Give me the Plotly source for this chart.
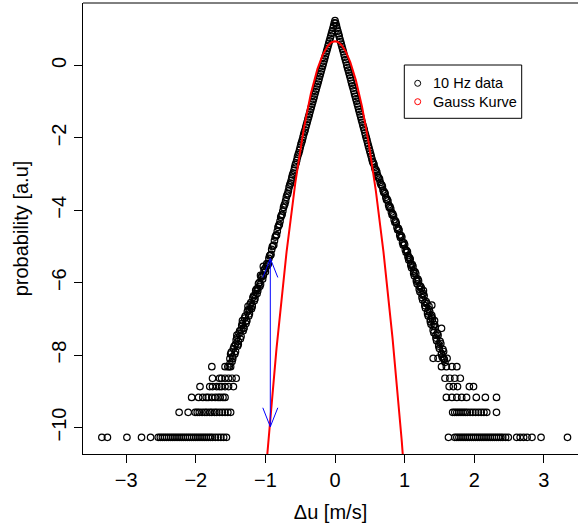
import numpy as np
import plotly.graph_objects as go

# ---------------- data ----------------
# central part of the 10 Hz histogram, left flank
left_x = [0.00, -0.02, -0.04, -0.06, -0.08, -0.10, -0.12, -0.14, -0.16, -0.18,
          -0.20, -0.22, -0.24, -0.26, -0.28, -0.30, -0.32, -0.34, -0.36, -0.38,
          -0.40, -0.42, -0.44, -0.46, -0.48, -0.50, -0.52, -0.54, -0.56, -0.58,
          -0.60, -0.62, -0.64, -0.66, -0.68, -0.70, -0.72, -0.74, -0.76, -0.78,
          -0.80, -0.82, -0.84, -0.86, -0.88, -0.90, -0.92, -0.94, -0.96, -0.98,
          -1.00, -1.02, -1.04, -1.06, -1.08, -1.10, -1.12, -1.14, -1.16, -1.18,
          -1.20, -1.22, -1.24, -1.26, -1.28, -1.30, -1.32, -1.34, -1.36, -1.38,
          -1.40, -1.42, -1.44, -1.46, -1.48, -1.50, -1.52]
left_y = [1.24, 1.10, 0.96, 0.82, 0.68, 0.54, 0.40, 0.26, 0.12, -0.02,
          -0.16, -0.30, -0.44, -0.58, -0.72, -0.86, -1.00, -1.14, -1.28, -1.42,
          -1.56, -1.70, -1.84, -1.98, -2.12, -2.26, -2.41, -2.53, -2.69, -2.81,
          -2.97, -3.09, -3.25, -3.36, -3.54, -3.64, -3.82, -3.92, -4.11, -4.19,
          -4.39, -4.47, -4.68, -4.74, -4.96, -5.00, -5.22, -5.26, -5.48, -5.47,
          -5.70, -5.66, -5.90, -5.85, -6.10, -6.03, -6.30, -6.22, -6.50, -6.41,
          -6.72, -6.60, -6.92, -6.80, -7.13, -6.98, -7.33, -7.18, -7.55, -7.40,
          -7.75, -7.58, -7.97, -7.82, -8.18, -7.97, -8.32]
# bins in between (left flank)
left_mid_x = [-0.01, -0.03, -0.05, -0.07, -0.09, -0.11, -0.13, -0.15, -0.17, -0.19,
              -0.21, -0.23, -0.25, -0.27, -0.29, -0.31, -0.33, -0.35, -0.37, -0.39,
              -0.41, -0.43, -0.45, -0.47, -0.49, -0.51, -0.53, -0.55, -0.57, -0.59,
              -0.61, -0.63, -0.65, -0.67, -0.69, -0.71, -0.73, -0.75, -0.77, -0.79,
              -0.81, -0.83, -0.85, -0.87, -0.89, -0.91, -0.93, -0.95, -0.97, -0.99,
              -1.01, -1.03, -1.05, -1.07, -1.09, -1.11, -1.13, -1.15, -1.17, -1.19,
              -1.21, -1.23, -1.25, -1.27, -1.29, -1.31, -1.33, -1.35, -1.37, -1.39,
              -1.41, -1.43, -1.45, -1.47, -1.49, -1.51]
left_mid_y = [1.18, 1.03, 0.89, 0.75, 0.61, 0.47, 0.33, 0.19, 0.05, -0.09,
              -0.23, -0.37, -0.51, -0.65, -0.79, -0.93, -1.07, -1.21, -1.35, -1.49,
              -1.63, -1.78, -1.90, -2.06, -2.18, -2.34, -2.46, -2.62, -2.74, -2.90,
              -3.02, -3.18, -3.30, -3.46, -3.58, -3.74, -3.86, -4.02, -4.14, -4.30,
              -4.42, -4.58, -4.70, -4.84, -4.98, -5.08, -5.24, -5.33, -5.52, -5.56,
              -5.62, -5.80, -5.82, -6.04, -6.00, -6.22, -6.18, -6.44, -6.36, -6.66,
              -6.55, -6.86, -6.75, -7.06, -6.92, -7.26, -7.12, -7.48, -7.33, -7.70,
              -7.52, -7.90, -7.76, -8.10, -7.92, -8.24]

# central part, right flank
right_x = [0.02, 0.04, 0.06, 0.08, 0.10, 0.12, 0.14, 0.16, 0.18, 0.20,
           0.22, 0.24, 0.26, 0.28, 0.30, 0.32, 0.34, 0.36, 0.38, 0.40,
           0.42, 0.44, 0.46, 0.48, 0.50, 0.52, 0.54, 0.56, 0.58, 0.60,
           0.62, 0.64, 0.66, 0.68, 0.70, 0.72, 0.74, 0.76, 0.78, 0.80,
           0.82, 0.84, 0.86, 0.88, 0.90, 0.92, 0.94, 0.96, 0.98, 1.00,
           1.02, 1.04, 1.06, 1.08, 1.10, 1.12, 1.14, 1.16, 1.18, 1.20,
           1.22, 1.24, 1.26, 1.28, 1.30, 1.32, 1.34, 1.36, 1.38, 1.40,
           1.42, 1.44, 1.46, 1.48, 1.50, 1.52, 1.54, 1.56, 1.58]
right_y = [1.10, 0.95, 0.81, 0.66, 0.52, 0.38, 0.23, 0.09, -0.06, -0.20,
           -0.34, -0.49, -0.63, -0.78, -0.92, -1.06, -1.21, -1.35, -1.50, -1.64,
           -1.78, -1.93, -2.07, -2.22, -2.36, -2.50, -2.65, -2.73, -2.88, -2.94,
           -3.09, -3.14, -3.29, -3.34, -3.50, -3.54, -3.71, -3.74, -3.92, -3.95,
           -4.12, -4.15, -4.33, -4.35, -4.54, -4.55, -4.75, -4.74, -4.96, -4.95,
           -5.16, -5.15, -5.37, -5.35, -5.59, -5.55, -5.81, -5.75, -6.03, -5.95,
           -6.25, -6.15, -6.48, -6.36, -6.70, -6.58, -6.92, -6.80, -7.15, -7.00,
           -7.38, -7.22, -7.60, -7.45, -7.82, -7.68, -8.05, -7.90, -8.20]
# bins in between (right flank)
right_mid_x = [0.01, 0.03, 0.05, 0.07, 0.09, 0.11, 0.13, 0.15, 0.17, 0.19,
               0.21, 0.23, 0.25, 0.27, 0.29, 0.31, 0.33, 0.35, 0.37, 0.39,
               0.41, 0.43, 0.45, 0.47, 0.49, 0.51, 0.53, 0.55, 0.57, 0.59,
               0.61, 0.63, 0.65, 0.67, 0.69, 0.71, 0.73, 0.75, 0.77, 0.79,
               0.81, 0.83, 0.85, 0.87, 0.89, 0.91, 0.93, 0.95, 0.97, 0.99,
               1.01, 1.03, 1.05, 1.07, 1.09, 1.11, 1.13, 1.15, 1.17, 1.19,
               1.21, 1.23, 1.25, 1.27, 1.29, 1.31, 1.33, 1.35, 1.37, 1.39,
               1.41, 1.43, 1.45, 1.47, 1.49, 1.51, 1.53, 1.55, 1.57]
right_mid_y = [1.17, 1.02, 0.88, 0.73, 0.59, 0.45, 0.30, 0.16, 0.01, -0.13,
               -0.27, -0.42, -0.56, -0.70, -0.85, -0.99, -1.13, -1.28, -1.42, -1.57,
               -1.71, -1.86, -2.00, -2.15, -2.29, -2.43, -2.58, -2.69, -2.82, -2.89,
               -3.03, -3.10, -3.23, -3.30, -3.44, -3.50, -3.64, -3.70, -3.85, -3.90,
               -4.05, -4.10, -4.26, -4.30, -4.47, -4.50, -4.68, -4.70, -4.89, -4.90,
               -5.09, -5.11, -5.30, -5.31, -5.52, -5.50, -5.74, -5.70, -5.96, -5.90,
               -6.18, -6.10, -6.41, -6.30, -6.63, -6.52, -6.86, -6.74, -7.08, -6.95,
               -7.31, -7.16, -7.53, -7.40, -7.75, -7.62, -7.98, -7.84, -8.12]

# scattered points along the noisy flanks
scatter_x = [-1.03, -1.07, -1.11, -1.15, -1.19, -1.23, -1.27, -1.31, -1.35, -1.39,
             -1.43, -1.47, -1.51, -1.25, -1.33, -1.41,
             1.05, 1.09, 1.13, 1.17, 1.21, 1.25, 1.29, 1.33, 1.37, 1.41,
             1.45, 1.49, 1.53, 1.27, 1.35, 1.43, 1.39, 1.39, 1.53]
scatter_y = [-5.55, -5.80, -6.15, -6.35, -6.62, -6.75, -7.05, -7.25, -7.30, -7.62,
             -7.70, -8.04, -8.10, -6.65, -7.05, -7.45,
             -5.25, -5.48, -5.68, -5.92, -6.10, -6.32, -6.55, -6.80, -7.02, -7.20,
             -7.45, -7.70, -7.95, -6.22, -6.65, -7.05, -6.90, -6.62, -7.26]

# discrete tail levels (bins holding only a few counts)
level_y = [-10.27, -9.58, -9.17, -8.87, -8.64, -8.32, -8.09]
level_x_left = [
    [-3.35, -3.27, -2.99, -2.78, -2.65, -2.54, -2.51, -2.48, -2.45, -2.42,
     -2.39, -2.36, -2.33, -2.30, -2.27, -2.24, -2.21, -2.18, -2.15, -2.12,
     -2.09, -2.06, -2.03, -2.00, -1.97, -1.94, -1.91, -1.88, -1.85, -1.82,
     -1.79, -1.76, -1.72, -1.68, -1.64, -1.60, -1.56],
    [-2.24, -2.11, -2.01, -1.98, -1.95, -1.91, -1.87, -1.84, -1.80, -1.77,
     -1.73, -1.70, -1.66, -1.62, -1.58, -1.54, -1.50],
    [-2.06, -1.96, -1.90, -1.85, -1.82, -1.77, -1.72, -1.68, -1.65, -1.61, -1.58],
    [-1.94, -1.80, -1.76, -1.70, -1.66, -1.63, -1.58, -1.53, -1.46],
    [-1.76, -1.66, -1.63, -1.58, -1.53, -1.48, -1.42],
    [-1.77, -1.58, -1.54, -1.50],
    [],
]
level_x_right = [
    [1.63, 1.72, 1.75, 1.78, 1.81, 1.84, 1.87, 1.90, 1.93, 1.96,
     1.99, 2.02, 2.05, 2.08, 2.11, 2.14, 2.17, 2.20, 2.23, 2.26,
     2.29, 2.32, 2.35, 2.38, 2.41, 2.45, 2.49, 2.61, 2.66, 2.71,
     2.76, 2.83, 2.96, 3.34],
    [1.69, 1.72, 1.75, 1.78, 1.81, 1.84, 1.87, 1.90, 1.94, 1.98,
     2.02, 2.06, 2.10, 2.14, 2.18, 2.32],
    [1.60, 1.68, 1.75, 1.82, 1.89, 2.03, 2.16, 2.32],
    [1.64, 1.70, 1.76, 1.93, 1.99],
    [1.58, 1.65, 1.72, 1.80],
    [1.53, 1.60, 1.68, 1.75],
    [1.41, 1.48, 1.56, 1.61],
]

# Gauss curve parameters
gauss_mu = 0.0
gauss_sigma = 0.204

# blue double arrow
arrow_x = -0.93
arrow_top = -5.33
arrow_bottom = -9.98

# axes
x_range = [-3.621, 3.491]
y_range = [-10.732, 1.727]
x_ticks = [-3, -2, -1, 0, 1, 2, 3]
y_ticks = [-10, -8, -6, -4, -2, 0]

legend_labels = ["10 Hz data", "Gauss Kurve"]
legend_colors = ["black", "red"]

# ---------------- figure ----------------
W, H = 578, 529
ML, MR, MT, MB = 83, 0, 3, 75
px_per_x = (W - ML - MR) / (x_range[1] - x_range[0])
px_per_y = (H - MT - MB) / (y_range[1] - y_range[0])

all_x = list(left_x) + list(left_mid_x) + list(right_x) + list(right_mid_x) + list(scatter_x)
all_y = list(left_y) + list(left_mid_y) + list(right_y) + list(right_mid_y) + list(scatter_y)
for yv, xl, xr in zip(level_y, level_x_left, level_x_right):
    all_x += xl + xr
    all_y += [yv] * (len(xl) + len(xr))

fig = go.Figure()

fig.add_trace(go.Scatter(
    x=all_x, y=all_y, mode="markers",
    marker=dict(symbol="circle-open", size=6.5, color="black", line=dict(width=1.2)),
    showlegend=False, hoverinfo="skip"))

gx = np.linspace(-1.2, 1.2, 601)
gy = -np.log(np.sqrt(2 * np.pi) * gauss_sigma) - (gx - gauss_mu) ** 2 / (2 * gauss_sigma ** 2)
fig.add_trace(go.Scatter(x=gx, y=gy, mode="lines", line=dict(color="red", width=2),
                         showlegend=False, hoverinfo="skip"))

# arrow with open heads at both ends
hdx = 7.5 / px_per_x
hdy = 19 / px_per_y
ax_ = [arrow_x, arrow_x, None,
       arrow_x - hdx, arrow_x, arrow_x + hdx, None,
       arrow_x - hdx, arrow_x, arrow_x + hdx]
ay_ = [arrow_top, arrow_bottom, None,
       arrow_top - hdy, arrow_top, arrow_top - hdy, None,
       arrow_bottom + hdy, arrow_bottom, arrow_bottom + hdy]
fig.add_trace(go.Scatter(x=ax_, y=ay_, mode="lines", line=dict(color="blue", width=1),
                         showlegend=False, hoverinfo="skip"))

# manual legend (R style)
def to_dx(p):
    return x_range[0] + (p - ML) / px_per_x

def to_dy(p):
    return y_range[1] - (p - MT) / px_per_y

shapes = [
    dict(type="rect", xref="x", yref="y", x0=to_dx(404.3), x1=to_dx(521.7),
         y0=to_dy(118.3), y1=to_dy(65), line=dict(color="black", width=1),
         fillcolor="white", layer="above"),
    dict(type="line", xref="paper", yref="paper", x0=0, x1=1, y0=1, y1=1,
         line=dict(color="black", width=1)),
]
annotations = []
for i, (lab, col) in enumerate(zip(legend_labels, legend_colors)):
    cy = to_dy(83.3 + i * 18.4)
    cx = to_dx(417.7)
    shapes.append(dict(type="circle", xref="x", yref="y", xsizemode="pixel", ysizemode="pixel",
                       xanchor=cx, yanchor=cy, x0=-3, x1=3, y0=-3, y1=3,
                       line=dict(color=col, width=1), layer="above"))
    annotations.append(dict(x=to_dx(430.5), y=cy, xref="x", yref="y", text=lab,
                            showarrow=False, xanchor="left", yanchor="middle",
                            font=dict(size=14.5, color="black",
                                      family="Liberation Sans, Arial, sans-serif")))

font_family = "Liberation Sans, Arial, sans-serif"
fig.update_layout(
    width=W, height=H, margin=dict(l=ML, r=MR, t=MT, b=MB, pad=0),
    paper_bgcolor="white", plot_bgcolor="white",
    font=dict(family=font_family, color="black"),
    shapes=shapes, annotations=annotations, showlegend=False,
    xaxis=dict(range=x_range, tickvals=x_ticks, ticks="outside", ticklen=8, tickwidth=1,
               tickcolor="black", showline=True, linecolor="black", linewidth=1,
               showgrid=False, zeroline=False, tickfont=dict(size=20),
               title=dict(text="Δu [m/s]", font=dict(size=20), standoff=14)),
    yaxis=dict(range=y_range, tickvals=y_ticks, ticks="outside", ticklen=8, tickwidth=1,
               tickcolor="black", showline=True, linecolor="black", linewidth=1,
               showgrid=False, zeroline=False, tickfont=dict(size=20), tickangle=-90,
               title=dict(text="probability [a.u]", font=dict(size=20), standoff=14)),
)

fig.write_html("out.html")
